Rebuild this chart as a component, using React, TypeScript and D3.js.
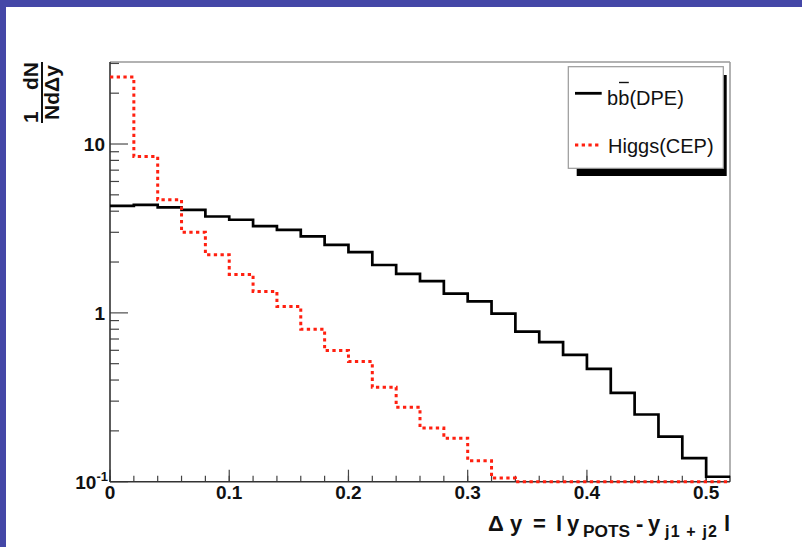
import React from "react";
import * as d3 from "d3";

// ---- data ----
const binWidth = 0.02;
const bbDPE = [4.30, 4.36, 4.22, 4.07, 3.72, 3.56, 3.26, 3.10, 2.84, 2.53, 2.29, 1.92, 1.70, 1.54, 1.30, 1.17, 0.99, 0.775, 0.67, 0.564, 0.466, 0.336, 0.250, 0.185, 0.138, 0.107];
const higgsCEP = [24.9, 8.43, 4.67, 3.00, 2.21, 1.69, 1.34, 1.09, 0.80, 0.598, 0.515, 0.362, 0.276, 0.208, 0.181, 0.133, 0.105, 0, 0, 0, 0, 0, 0, 0, 0, 0];
const xMajorTicks = [0, 0.1, 0.2, 0.3, 0.4, 0.5];
const xTickLabels = ["0", "0.1", "0.2", "0.3", "0.4", "0.5"];
const xMinorTicks = d3.range(0, 0.5201, 0.02);
const yMajorTicks = [0.1, 1, 10];
const yMinorTicks = [0.2, 0.3, 0.4, 0.5, 0.6, 0.7, 0.8, 0.9, 2, 3, 4, 5, 6, 7, 8, 9, 20, 30];
const xDomain = [0, 0.52];
const yDomain = [0.1, 30.6];

const W = 802, H = 547;
const L = 110, R = 730, T = 62, B = 481.7;
const FONT = "'Liberation Sans', Arial, Helvetica, sans-serif";

export default function App() {
  const x = d3.scaleLinear().domain(xDomain).range([L, R]);
  const y = d3.scaleLog().domain(yDomain).range([B, T]).clamp(true);

  const stepPath = (vals: number[]) => {
    const pts: [number, number][] = [];
    vals.forEach((v, i) => {
      const yy = y(v > 0 ? v : yDomain[0]);
      pts.push([x(i * binWidth), yy]);
      pts.push([x((i + 1) * binWidth), yy]);
    });
    return d3.line()(pts) || "";
  };

  const red = "#ff2010";
  const tb = 531; // x-title baseline
  const ts = 537; // subscript baseline

  return (
    <svg width={W} height={H} style={{ position: "absolute", left: 0, top: 0, fontFamily: FONT }}>
      <rect x={0} y={0} width={W} height={H} fill="#4447a7" />
      <rect x={6} y={7} width={W - 6} height={H - 7} fill="#ffffff" />

      {/* frame top/right */}
      <line x1={L} y1={T} x2={R} y2={T} stroke="#999" strokeWidth={1.5} />
      <line x1={R} y1={T} x2={R} y2={B} stroke="#999" strokeWidth={1.5} />

      {/* y ticks */}
      {yMinorTicks.map((t) => (
        <line key={"ym" + t} x1={L} x2={L + 9} y1={y(t)} y2={y(t)} stroke="#444" strokeWidth={1.2} />
      ))}
      {yMajorTicks.map((t) => (
        <line key={"yM" + t} x1={L} x2={L + 18} y1={y(t)} y2={y(t)} stroke="#666" strokeWidth={1.4} />
      ))}
      {/* x ticks */}
      {xMinorTicks.map((t) => (
        <line key={"xm" + t} x1={x(t)} x2={x(t)} y1={B} y2={B - 6} stroke="#444" strokeWidth={1.2} />
      ))}
      {xMajorTicks.map((t) => (
        <line key={"xM" + t} x1={x(t)} x2={x(t)} y1={B} y2={B - 12} stroke="#444" strokeWidth={1.2} />
      ))}

      {/* axes */}
      <line x1={L} y1={T} x2={L} y2={B} stroke="#333" strokeWidth={1.6} />
      <line x1={L} y1={B} x2={R} y2={B} stroke="#333" strokeWidth={1.6} />

      {/* histograms */}
      <path d={stepPath(bbDPE)} fill="none" stroke="#000" strokeWidth={2.7} />
      <path d={stepPath(higgsCEP)} fill="none" stroke={red} strokeWidth={3} strokeDasharray="3.3,3.4" />

      {/* x tick labels */}
      {xMajorTicks.map((t, i) => (
        <text key={"xl" + t} x={x(t)} y={B + 17.5} textAnchor="middle" fontWeight="bold" fontSize={19} fill="#111">
          {xTickLabels[i]}
        </text>
      ))}
      {/* y tick labels */}
      <text x={105} y={y(10) + 7} textAnchor="end" fontWeight="bold" fontSize={19} fill="#111">10</text>
      <text x={105} y={y(1) + 7} textAnchor="end" fontWeight="bold" fontSize={19} fill="#111">1</text>
      <text x={108} y={y(0.1) + 7} textAnchor="end" fontWeight="bold" fontSize={19} fill="#111">
        10<tspan fontSize={13} dy={-8}>-1</tspan>
      </text>

      {/* y axis title */}
      <g transform={`translate(0,${(T + 123) / 2}) rotate(-90)`} fontWeight="bold" fontSize={21} fill="#111">
        <text x={-30.5} y={38} textAnchor="start">1</text>
        <text x={30.5} y={38} textAnchor="end">dN</text>
        <line x1={-30.5} x2={30.5} y1={42} y2={42} stroke="#111" strokeWidth={2} />
        <text x={0} y={59} textAnchor="middle">NdΔy</text>
      </g>

      {/* x axis title */}
      <g fill="#111" fontWeight="bold">
        <text x={488} y={tb} fontSize={22}>Δ</text>
        <text x={510} y={tb} fontSize={22}>y</text>
        <text x={533} y={tb} fontSize={22}>=</text>
        <text x={556} y={tb} fontSize={22}>l</text>
        <text x={567} y={tb} fontSize={22}>y</text>
        <text x={583} y={ts} fontSize={16} textLength={47} lengthAdjust="spacingAndGlyphs">POTS</text>
        <text x={636} y={tb} fontSize={22}>-</text>
        <text x={648} y={tb} fontSize={22}>y</text>
        <text x={665} y={ts} fontSize={16} textLength={52} lengthAdjust="spacing">j1 + j2</text>
        <text x={724} y={tb} fontSize={22}>l</text>
      </g>

      {/* legend */}
      <rect x={576.7} y={75} width={150} height={101} fill="#000" />
      <rect x={568.3} y={66.7} width={155} height={101.6} fill="#fff" stroke="#999" strokeWidth={1.2} />
      <line x1={575} x2={601.7} y1={93.3} y2={93.3} stroke="#000" strokeWidth={2.8} />
      <text x={607} y={105} fontSize={20} fill="#111">b</text>
      <text x={618.2} y={105} fontSize={20} fill="#111">b</text>
      <text x={629.4} y={105} fontSize={20} fill="#111">(DPE)</text>
      <line x1={619} x2={628.8} y1={82.5} y2={82.5} stroke="#111" strokeWidth={1.4} />
      <line x1={575} x2={601.7} y1={145} y2={145} stroke={red} strokeWidth={3} strokeDasharray="3.3,3.4" />
      <text x={608} y={153} fontSize={20} fill="#111">Higgs(CEP)</text>
    </svg>
  );
}
